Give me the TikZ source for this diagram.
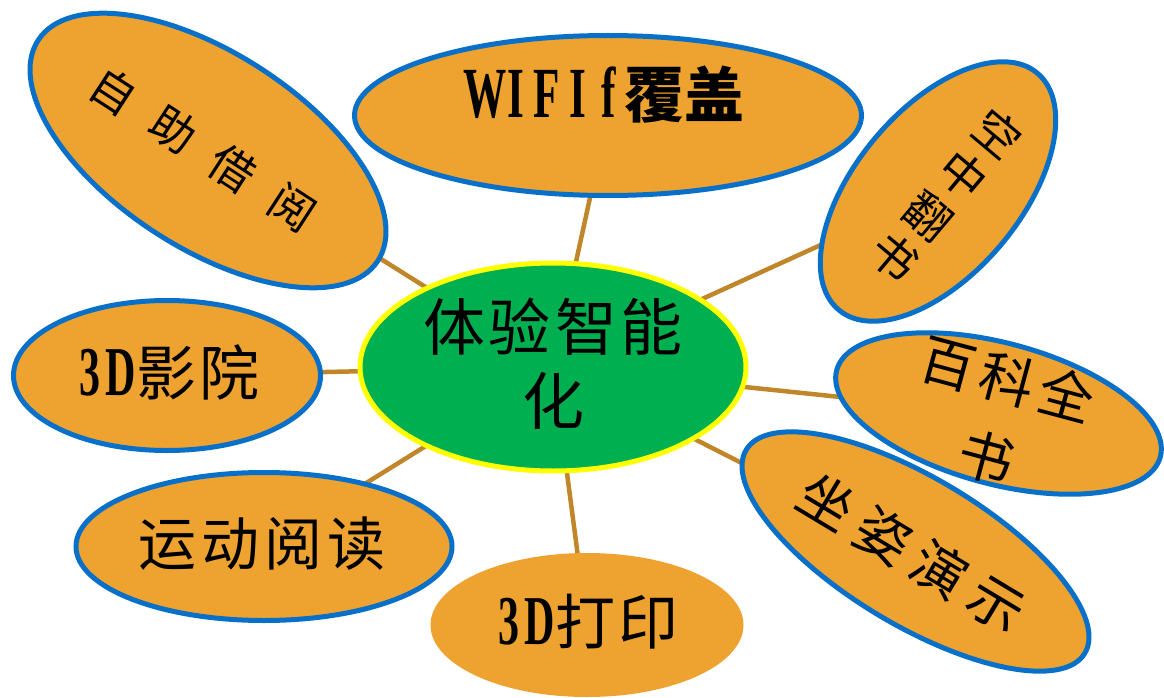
\documentclass[tikz,border=0pt]{standalone}
\usepackage{fontspec}
\usetikzlibrary{shapes.geometric,backgrounds}
\newfontfamily\cjk{Noto Sans CJK SC}
\newfontfamily\lat{Liberation Serif}[FakeStretch=0.6]
\newcommand\mcell[1]{\makebox[31pt]{#1}}
\definecolor{orfill}{HTML}{EEA230}
\definecolor{bluebd}{HTML}{0870C8}
\definecolor{greenf}{HTML}{00B050}
\definecolor{yellowbd}{HTML}{FFFF00}
\definecolor{linec}{HTML}{C0862A}
\begin{document}
\begin{tikzpicture}[x=1pt,y=-1pt,
  bub/.style={ellipse, draw=bluebd, line width=5pt, fill=orfill, inner sep=0pt},
  conn/.style={draw=linec, line width=4.5pt},
  lbl/.style={inner sep=0pt, align=center, text=black}]
\useasboundingbox (0,0) rectangle (1164,698);

% ellipses
\node[ellipse, draw=yellowbd, line width=5pt, fill=greenf, inner sep=0pt,
      minimum width=386pt, minimum height=208pt] (c) at (553,367) {};
\node[bub, minimum width=405pt, minimum height=195pt, rotate=-33] (zz) at (208,150.5) {};
\node[bub, minimum width=507pt, minimum height=160pt] (wifi) at (608,115.5) {};
\node[bub, minimum width=165pt, minimum height=309pt, rotate=-40] (kz) at (938,191.5) {};
\node[bub, minimum width=307pt, minimum height=150pt] (ying) at (167,375.5) {};
\node[bub, minimum width=335pt, minimum height=141pt, rotate=-15] (bk) at (998.5,413.5) {};
\node[bub, minimum width=395pt, minimum height=147pt, rotate=-31] (zs) at (915.5,551.5) {};
\node[bub, minimum width=376pt, minimum height=148pt] (yd) at (264,546.5) {};
\node[ellipse, fill=orfill, inner sep=0pt, minimum width=313pt, minimum height=144pt] (dy) at (587,625) {};

% connectors
\begin{scope}[on background layer]
\foreach \n in {zz,wifi,kz,ying,bk,zs,yd,dy}
  \draw[conn] (c.center) -- (\n.center);
\end{scope}

% labels
\node[lbl, font=\cjk\fontsize{62}{74}\selectfont] (tc) at (553,364)
  {体\hspace{4pt}验\hspace{4pt}智\hspace{4pt}能\\化};
\node[lbl, font=\cjk\fontsize{45}{54}\selectfont, rotate=-33] (tzz) at (203,149)
  {自\hspace{26pt}助\hspace{26pt}借\hspace{26pt}阅};
\node[lbl] (twifi) at (607,95)
  {{\lat\bfseries\fontsize{72}{74}\selectfont \mcell{W}\mcell{I}\mcell{F}\mcell{I}\mcell{f}}{\cjk\bfseries\fontsize{60}{70}\selectfont 覆盖}};
\node[lbl, font=\cjk\fontsize{46}{53.5}\selectfont, rotate=-40] (tkz) at (946,195)
  {空\\中\\翻\\书};
\node[lbl] (tying) at (167,372)
  {{\lat\bfseries\fontsize{70}{72}\selectfont \mcell{3}\mcell{D}}{\cjk\fontsize{60}{70}\selectfont 影\hspace{4pt}院}};
\node[lbl, font=\cjk\fontsize{55}{80}\selectfont, rotate=-15] (tbk) at (997,418)
  {百\hspace{6pt}科\hspace{6pt}全\\书};
\node[lbl, font=\cjk\fontsize{55}{60}\selectfont, rotate=-31] (tzs) at (912,552.5)
  {坐\hspace{11pt}姿\hspace{11pt}演\hspace{11pt}示};
\node[lbl, font=\cjk\fontsize{58}{70}\selectfont] (tyd) at (262,544)
  {运\hspace{5pt}动\hspace{5pt}阅\hspace{5pt}读};
\node[lbl] (tdy) at (586,622)
  {{\lat\bfseries\fontsize{70}{72}\selectfont \mcell{3}\mcell{D}}{\cjk\fontsize{60}{70}\selectfont 打\hspace{4pt}印}};
\end{tikzpicture}
\end{document}
